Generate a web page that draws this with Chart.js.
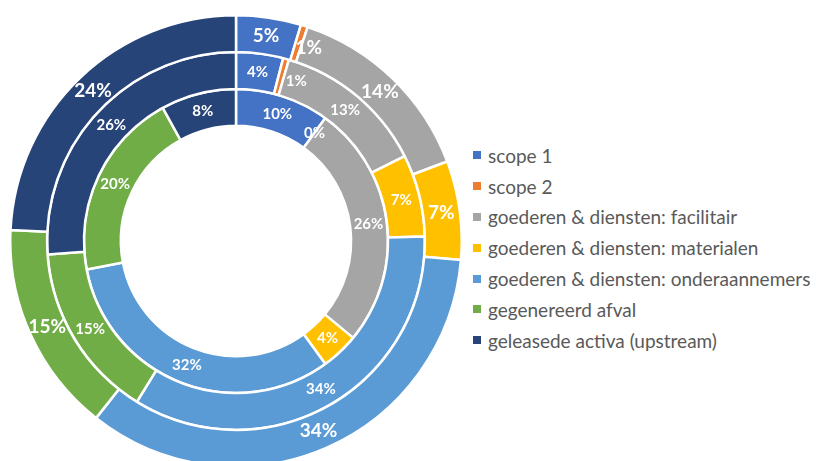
<!DOCTYPE html>
<html><head><meta charset="utf-8">
<script src="https://cdn.jsdelivr.net/npm/chart.js@4.4.1/dist/chart.umd.min.js"></script>
<style>
html,body{margin:0;padding:0;background:#fff;overflow:hidden;width:816px;height:461px;}
#wrap{position:absolute;left:9px;top:14px;width:454px;height:454px;}
#legend{position:absolute;left:473px;top:140px;font-family:Lato, "Open Sans", sans-serif;font-size:19px;color:#595959;}
.item{display:flex;align-items:center;height:30.8px;white-space:nowrap;}
.box{width:8px;height:8px;margin-right:7px;flex:none;}
</style></head>
<body>
<div id="wrap"><canvas id="c"></canvas></div>
<div id="legend"></div>
<script>
const categories = [
  "scope 1",
  "scope 2",
  "goederen & diensten: facilitair",
  "goederen & diensten: materialen",
  "goederen & diensten: onderaannemers",
  "gegenereerd afval",
  "geleasede activa (upstream)"
];
const colors = ["#4472C4", "#ED7D31", "#A5A5A5", "#FFC000", "#5B9BD5", "#70AD47", "#264478"];
const outerRing  = [4.6, 0.5, 14, 7, 34, 15, 24];
const middleRing = [4, 0.5, 13, 7, 34, 15, 26];
const innerRing  = [10, 0, 26, 4, 32, 20, 8];

const legendEl = document.getElementById('legend');
categories.forEach((c, i) => {
  const d = document.createElement('div'); d.className = 'item';
  const b = document.createElement('span'); b.className = 'box'; b.style.background = colors[i];
  const t = document.createElement('span'); t.textContent = c;
  d.appendChild(b); d.appendChild(t); legendEl.appendChild(d);
});

const labelPlugin = {
  id: 'pctLabels',
  afterDatasetsDraw(chart) {
    const ctx = chart.ctx;
    ctx.save();
    ctx.fillStyle = '#ffffff';
    ctx.textAlign = 'center';
    ctx.textBaseline = 'middle';
    chart.data.datasets.forEach((ds, di) => {
      const meta = chart.getDatasetMeta(di);
      const size = di === 0 ? 19 : 15;
      ctx.font = 'bold ' + size + 'px Lato, "Open Sans", sans-serif';
      meta.data.forEach((arc, j) => {
        const p = arc.tooltipPosition();
        const v = ds.data[j];
        const small = v > 0 && v < 1;
        const dx = small ? (di === 0 ? 10 : 15) : 0;
        const dy = small ? 4 : 0;
        ctx.fillText(Math.round(v) + '%', p.x + dx, p.y + dy);
      });
    });
    ctx.restore();
  }
};

const mk = (label, data) => ({ label, data, backgroundColor: colors, borderColor: '#ffffff', borderWidth: 2.5 });

new Chart(document.getElementById('c'), {
  type: 'doughnut',
  data: {
    labels: categories,
    datasets: [mk('buiten', outerRing), mk('midden', middleRing), mk('binnen', innerRing)]
  },
  options: {
    responsive: true,
    maintainAspectRatio: false,
    animation: false,
    cutout: '51%',
    layout: { padding: 0 },
    plugins: { legend: { display: false }, tooltip: { enabled: false } }
  },
  plugins: [labelPlugin]
});
</script>
</body></html>
